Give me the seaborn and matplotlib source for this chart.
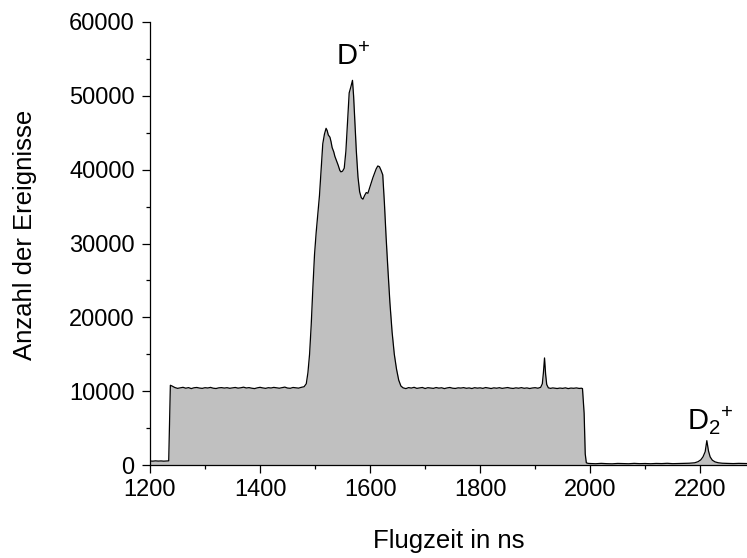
import matplotlib
matplotlib.use("Agg")
import matplotlib.pyplot as plt
import seaborn as sns
import numpy as np
import pandas as pd
from matplotlib.ticker import MultipleLocator

# ---- data ----
flugzeit_ns = [
    1200, 1205, 1210, 1215, 1220, 1225, 1230, 1234, 1237, 1240,
    1245, 1250, 1255, 1260, 1265, 1270, 1275, 1280, 1285, 1290,
    1295, 1300, 1305, 1310, 1315, 1320, 1325, 1330, 1335, 1340,
    1345, 1350, 1355, 1360, 1365, 1370, 1375, 1380, 1385, 1390,
    1395, 1400, 1405, 1410, 1415, 1420, 1425, 1430, 1435, 1440,
    1445, 1450, 1455, 1460, 1465, 1470, 1475, 1480,
    1484, 1487, 1490, 1493, 1496, 1499, 1502, 1505, 1508, 1511,
    1514, 1517, 1520, 1522, 1524, 1527, 1529, 1531, 1534, 1536,
    1539, 1542, 1545, 1547, 1550, 1553, 1556, 1559, 1562, 1565,
    1568, 1570, 1572, 1575, 1578, 1581, 1584, 1587, 1590, 1593,
    1596, 1599, 1602, 1605, 1608, 1611, 1614, 1617, 1620, 1623,
    1626, 1629, 1632, 1636, 1640, 1644, 1648, 1652, 1656, 1660,
    1665, 1670, 1675, 1680, 1685, 1690, 1695, 1700, 1705, 1710,
    1715, 1720, 1725, 1730, 1735, 1740, 1745, 1750, 1755, 1760,
    1765, 1770, 1775, 1780, 1785, 1790, 1795, 1800, 1805, 1810,
    1815, 1820, 1825, 1830, 1835, 1840, 1845, 1850, 1855, 1860,
    1865, 1870, 1875, 1880, 1885, 1890, 1895, 1900, 1905, 1910,
    1913, 1915, 1917, 1919, 1921, 1924, 1928, 1932, 1936, 1940,
    1945, 1950, 1955, 1960, 1965, 1970, 1975, 1980, 1984, 1986,
    1989, 1991, 1993, 1996,
    2000, 2010, 2020, 2030, 2040, 2050, 2060, 2070, 2080, 2090,
    2100, 2110, 2120, 2130, 2140, 2150, 2160, 2170, 2180, 2190,
    2196, 2201, 2205, 2209, 2212, 2215, 2218, 2222, 2227, 2233,
    2240, 2250, 2260, 2270, 2280, 2290,
]
anzahl = [
    540, 520, 560, 530, 550, 520, 540, 560, 10800, 10700,
    10500, 10380, 10450, 10520, 10400, 10480, 10350, 10460, 10500, 10420,
    10380, 10470, 10430, 10510, 10400, 10360, 10450, 10480, 10420, 10470,
    10390, 10440, 10500, 10410, 10460, 10540, 10430, 10480, 10400, 10350,
    10450, 10520, 10440, 10380, 10470, 10430, 10510, 10450, 10400, 10480,
    10550, 10420, 10390, 10500, 10460, 10410, 10520, 10600,
    11000, 12500, 15000, 19000, 24000, 28500, 31500, 34000, 36500, 40000,
    43500, 44800, 45600, 45300, 44700, 44400, 43800, 43000, 42400, 41800,
    41200, 40600, 39900, 39700, 39800, 40200, 42500, 46500, 50400, 51200,
    52100, 50000, 47000, 42500, 39000, 37000, 36200, 36000, 36500, 36900,
    36800, 37500, 38200, 38900, 39500, 40100, 40500, 40400, 39900, 39300,
    35500, 31000, 27000, 22000, 18000, 15000, 13000, 11500, 10700, 10450,
    10350, 10480, 10420, 10520, 10380, 10440, 10500, 10360, 10470, 10430,
    10380, 10490, 10410, 10460, 10350, 10440, 10500, 10400, 10370, 10450,
    10420, 10480, 10390, 10440, 10360, 10470, 10410, 10450, 10380, 10490,
    10420, 10360, 10450, 10400, 10470, 10380, 10430, 10490, 10410, 10370,
    10450, 10400, 10480, 10390, 10440, 10360, 10430, 10470, 10400, 10520,
    11000, 12500, 14500, 12300, 10900, 10450, 10380, 10440, 10400, 10360,
    10420, 10380, 10450, 10350, 10420, 10390, 10440, 10370, 10400, 10350,
    7000, 1500, 300, 220,
    200, 170, 220, 180, 160, 210, 190, 170, 220, 180,
    200, 170, 210, 190, 230, 180, 200, 220, 240, 300,
    450, 700, 1100, 1800, 3300, 1900, 1100, 650, 420, 300,
    240, 210, 190, 220, 200, 190,
]

x_ticks = [1200, 1400, 1600, 1800, 2000, 2200]
y_ticks = [0, 10000, 20000, 30000, 40000, 50000, 60000]

df = pd.DataFrame({"Flugzeit": flugzeit_ns, "Anzahl": anzahl})

sns.set_style("ticks")
plt.rcParams["font.family"] = ["Liberation Sans", "DejaVu Sans"]
plt.rcParams["mathtext.fontset"] = "custom"
plt.rcParams["mathtext.rm"] = "Liberation Sans"
plt.rcParams["mathtext.it"] = "Liberation Sans"
plt.rcParams["text.color"] = "black"
plt.rcParams["axes.labelcolor"] = "black"
plt.rcParams["xtick.color"] = "black"
plt.rcParams["ytick.color"] = "black"

fig = plt.figure(figsize=(7.47, 5.58), dpi=100)
ax = fig.add_axes([150 / 747, 1 - 465 / 558, 1 - 150 / 747, 443 / 558])

ax.fill_between(df["Flugzeit"], df["Anzahl"], 0, color="#C0C0C0", linewidth=0, zorder=1)
sns.lineplot(data=df, x="Flugzeit", y="Anzahl", ax=ax, color="black", linewidth=0.9, zorder=2)

ax.set_xlim(1200, 2285)
ax.set_ylim(0, 60000)
ax.set_xticks(x_ticks)
ax.set_yticks(y_ticks)
ax.xaxis.set_minor_locator(MultipleLocator(100))
ax.yaxis.set_minor_locator(MultipleLocator(5000))
ax.tick_params(which="major", direction="out", length=6, width=0.9, labelsize=17, pad=4,
               color="black", labelcolor="black")
ax.tick_params(which="minor", direction="out", length=3, width=0.9, color="black")
ax.tick_params(axis="y", which="major", pad=5)

for s in ["top", "right"]:
    ax.spines[s].set_visible(False)
for s in ["left", "bottom"]:
    ax.spines[s].set_linewidth(0.9)
    ax.spines[s].set_color("black")

ax.set_xlabel("Flugzeit in ns", fontsize=18.5, labelpad=20, color="black")
ax.set_ylabel("Anzahl der Ereignisse", fontsize=18.5, color="black")
ax.yaxis.set_label_coords(-0.19, 0.52)

ax.text(1569, 55200, r"D$^{+}$", fontsize=21, ha="center", va="center", color="black")
ax.text(2218, 6000, r"D$_{2}{}^{+}$", fontsize=21, ha="center", va="center", color="black")

fig.savefig("out.png", dpi=100)
